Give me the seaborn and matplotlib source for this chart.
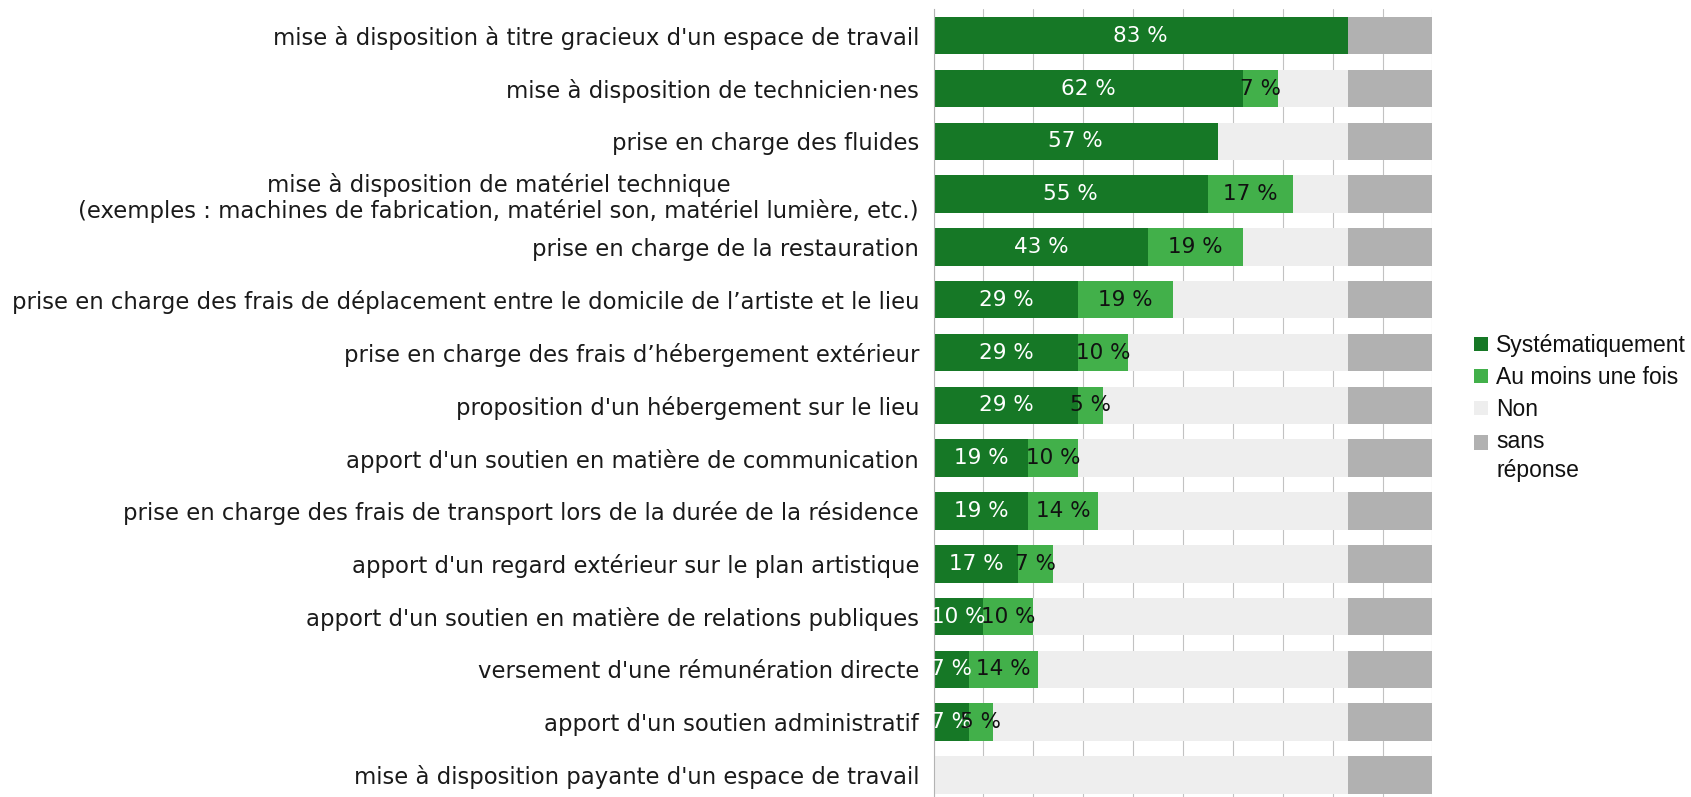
import matplotlib
matplotlib.use("Agg")
import matplotlib.pyplot as plt
import seaborn as sns
import pandas as pd
import numpy as np
from matplotlib.patches import Patch

# Aides apportées aux artistes accueilli·es en résidence (en % des lieux)
categories = [
    "mise à disposition à titre gracieux d'un espace de travail",
    "mise à disposition de technicien·nes",
    "prise en charge des fluides",
    "mise à disposition de matériel technique\n(exemples : machines de fabrication, matériel son, matériel lumière, etc.)",
    "prise en charge de la restauration",
    "prise en charge des frais de déplacement entre le domicile de l’artiste et le lieu",
    "prise en charge des frais d’hébergement extérieur",
    "proposition d'un hébergement sur le lieu",
    "apport d'un soutien en matière de communication",
    "prise en charge des frais de transport lors de la durée de la résidence",
    "apport d'un regard extérieur sur le plan artistique",
    "apport d'un soutien en matière de relations publiques",
    "versement d'une rémunération directe",
    "apport d'un soutien administratif",
    "mise à disposition payante d'un espace de travail",
]
systematique = [83, 62, 57, 55, 43, 29, 29, 29, 19, 19, 17, 10, 7, 7, 0]
au_moins_une_fois = [0, 7, 0, 17, 19, 19, 10, 5, 10, 14, 7, 10, 14, 5, 0]
non = [0, 14, 26, 11, 21, 35, 44, 49, 54, 50, 59, 63, 62, 71, 83]
sans_reponse = [17] * 15

series_names = ["Systématiquement", "Au moins une fois", "Non", "sans\nréponse"]
colors = ["#167826", "#42b04a", "#eeeeee", "#b1b1b1"]

sns.set_theme(style="white")
plt.rcParams["font.family"] = ["DejaVu Sans"]

df = pd.DataFrame({
    "categorie": categories,
    "sys": systematique,
    "aumoins": au_moins_une_fois,
    "non": non,
    "sr": sans_reponse,
})
# cumulative ends of each stacked segment
df["end_sys"] = df["sys"]
df["end_aumoins"] = df["end_sys"] + df["aumoins"]
df["end_non"] = df["end_aumoins"] + df["non"]
df["end_sr"] = df["end_non"] + df["sr"]
ends = ["end_sys", "end_aumoins", "end_non", "end_sr"]

fig = plt.figure(figsize=(16.91, 7.97), dpi=100)
ax = fig.add_axes([0.5521, -0.0055, 0.2950, 0.9938])

# draw from the outermost segment inward so each layer sits on top
for col, color in reversed(list(zip(ends, colors))):
    sns.barplot(data=df, y="categorie", x=col, order=categories, orient="h",
                color=color, saturation=1, width=0.71, linewidth=0,
                errorbar=None, ax=ax)

ax.set_xlim(0, 100)
ax.set_ylim(len(categories) - 0.5, -0.5)
ax.set_xlabel("")
ax.set_ylabel("")

# vertical grid every 10 %
ax.set_xticks(np.arange(0, 101, 10))
ax.set_xticklabels([])
ax.xaxis.grid(True, color="#c2c2c2", linewidth=0.8)
ax.set_axisbelow(True)
ax.tick_params(axis="x", length=0)

# category labels, with small ticks between categories
ax.tick_params(axis="y", which="major", length=0, pad=10.5, labelsize=16.4,
               labelcolor="#1a1a1a")
ax.set_yticks(np.arange(-0.5, len(categories), 1), minor=True)
ax.tick_params(axis="y", which="minor", length=7, width=0.8, color="#b3b3b3")
for lab in ax.get_yticklabels():
    lab.set_multialignment("center")
    lab.set_linespacing(1.15)

for side in ["top", "right", "bottom"]:
    ax.spines[side].set_visible(False)
ax.spines["left"].set_color("#b3b3b3")
ax.spines["left"].set_linewidth(0.8)

# value labels inside the green segments
for i, (s, a) in enumerate(zip(systematique, au_moins_une_fois)):
    if s > 0:
        ax.text(s / 2, i, f"{s} %", color="white", ha="center", va="center",
                fontsize=15.5)
    if a > 0:
        ax.text(s + a / 2, i, f"{a} %", color="#111111", ha="center",
                va="center", fontsize=15.5)

leg_size = 16.5
leg_linespacing = 1.35
handles = [Patch(facecolor=c, edgecolor="none", label=n)
           for c, n in zip(colors, series_names)]
leg = fig.legend(handles=handles, loc="upper left",
                 bbox_to_anchor=(1474 / 1691, 1 - 334 / 797),
                 frameon=False, prop={"family": "Liberation Sans", "size": leg_size},
                 handlelength=0.6, handleheight=0.6, handletextpad=0.38,
                 labelspacing=0.39, borderpad=0, borderaxespad=0)
for t in leg.get_texts():
    t.set_linespacing(leg_linespacing)
    t.set_color("#111111")
# keep the square of the two-line entry level with its first line
last = leg.legend_handles[-1]
last.set_y(last.get_y() + 0.5 * leg_linespacing * 0.93 * leg_size)

fig.savefig("out.png", dpi=100)
